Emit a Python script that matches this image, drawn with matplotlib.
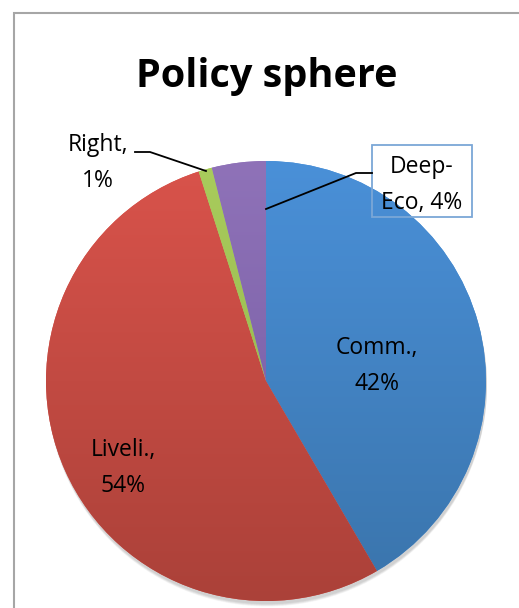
import numpy as np
import matplotlib.pyplot as plt
from matplotlib.colors import to_rgb
from matplotlib.patches import Rectangle

labels = ["Comm.", "Liveli.", "Right", "Deep-Eco"]
values = [42, 54, 1, 4]
# top / bottom colour of each wedge's vertical gradient
tops = ["#4a90d8", "#d9534b", "#a9cc5c", "#8f72b8"]
bottoms = ["#3a74ab", "#ab4139", "#8fb04a", "#7159a0"]

W, H = 519, 608
fig = plt.figure(figsize=(W / 100, H / 100), dpi=100)
ax = fig.add_axes([0, 0, 1, 1])

# chart-area frame (runs past right and bottom edges)
fig.patches.append(Rectangle((14 / W, -0.1), 1.2, (H - 13) / H + 0.1,
                             transform=fig.transFigure, fill=False,
                             edgecolor="#a6a6a6", lw=1.5))

cx, cy, r = 266, 227, 220
wedges, _ = ax.pie(values, startangle=90, counterclock=False,
                   center=(cx, cy), radius=r, frame=True,
                   wedgeprops=dict(linewidth=0))

# faint shadow under the pie
for k in range(6):
    ax.add_patch(plt.Circle((cx + 1, cy - 3 - k * 0.5), r, color="black",
                            alpha=0.03, zorder=0.5, lw=0))

grad = np.linspace(0, 1, 256)[:, None, None]
for w, t, b in zip(wedges, tops, bottoms):
    img = np.array(to_rgb(t)) * (1 - grad) + np.array(to_rgb(b)) * grad
    w.set_facecolor(t)
    im = ax.imshow(img, extent=(cx - r, cx + r, cy - r, cy + r),
                   origin="upper", aspect="auto", zorder=2)
    im.set_clip_path(w)

ax.set_xlim(0, W)
ax.set_ylim(0, H)
ax.set_aspect("equal")
ax.axis("off")

font = "Open Sans"
lab = dict(ha="center", va="center", fontsize=16.5, family=font,
           linespacing=1.65, zorder=5)

fig.text(267 / W, 1 - 76 / H, "Policy sphere", ha="center", va="center",
         fontsize=28.5, fontweight="bold", family=font)

ax.text(377, H - 366, f"{labels[0]},\n{values[0]}%", **lab)
ax.text(123, H - 468, f"{labels[1]},\n{values[1]}%", **lab)
ax.text(98, H - 163, f"{labels[2]},\n{values[2]}%", **lab)
ax.text(422, H - 185, "Deep-\nEco, " + f"{values[3]}%", **lab)
ax.add_patch(Rectangle((372, H - 217), 100, 72, fill=False,
                       edgecolor="#7ba7d7", lw=1.3, zorder=4))

# leader lines
ax.plot([135, 150, 206], [H - 152, H - 152, H - 171], color="black", lw=1.3, zorder=5)
ax.plot([372, 356, 266], [H - 173, H - 173, H - 209], color="black", lw=1.3, zorder=5)

fig.savefig("out.png", dpi=100, facecolor="white")
